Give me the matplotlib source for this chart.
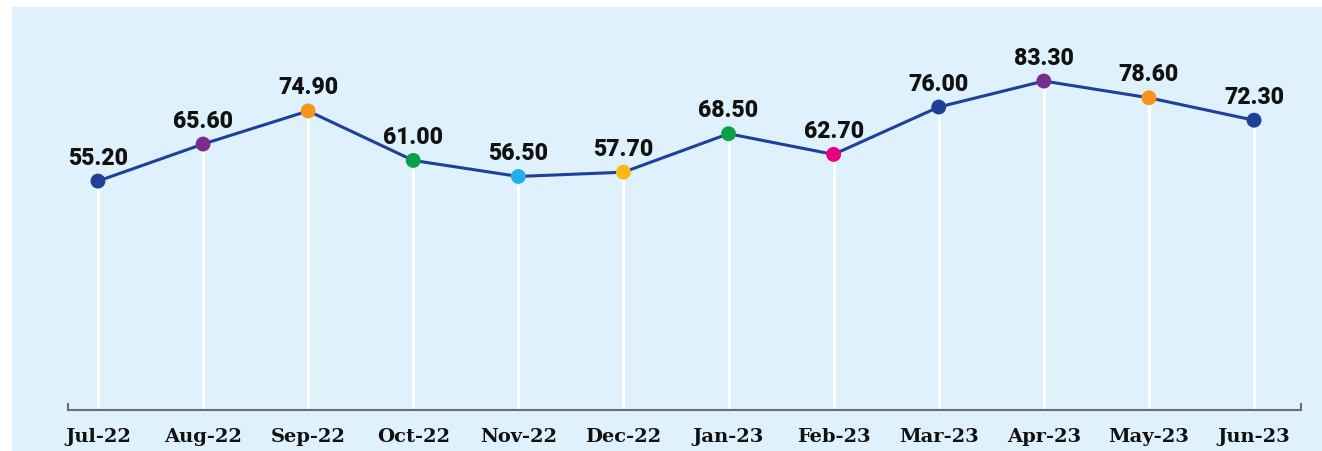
import matplotlib
matplotlib.use('Agg')
import matplotlib.pyplot as plt
from matplotlib.patches import Rectangle

months = ['Jul-22', 'Aug-22', 'Sep-22', 'Oct-22', 'Nov-22', 'Dec-22',
          'Jan-23', 'Feb-23', 'Mar-23', 'Apr-23', 'May-23', 'Jun-23']
values = [55.2, 65.6, 74.9, 61.0, 56.5, 57.7, 68.5, 62.7, 76.0, 83.3, 78.6, 72.3]
point_colors = ['#1f3f99', '#7b2d8e', '#f7941d', '#0aa04a', '#1fb0ea', '#fbb817',
                '#0aa04a', '#e5007e', '#1f3f99', '#7b2d8e', '#f7941d', '#1f3f99']

bg = '#dff1fc'
line_color = '#1f3f99'

W, H = 1322, 452
fig = plt.figure(figsize=(W / 100, H / 100), dpi=100)
fig.patch.set_facecolor('white')
# light blue panel behind everything
fig.patches.append(Rectangle((12 / W, -0.01), 1.01 - 12 / W, 1.01 - 8 / H,
                             transform=fig.transFigure, facecolor=bg,
                             edgecolor='none', zorder=-5))

ax = fig.add_axes([68 / W, 41 / H, (1301 - 68) / W, (411 - 8) / H])
ax.set_facecolor('none')
ax.set_zorder(1)

x = list(range(len(months)))
ax.set_xlim(-0.285, 11.447)
ax.set_ylim(-9.1, 104.1)

# white drop lines from axis to points
ax.vlines(x, -9.1, values, colors='white', linewidth=2.2, zorder=1)
ax.plot(x, values, color=line_color, linewidth=2.2, zorder=2)
ax.scatter(x, values, s=115, c=point_colors, zorder=3, linewidths=0)

for xi, v in zip(x, values):
    ax.annotate(f'{v:.2f}', (xi, v), xytext=(0, 9), textcoords='offset points',
                ha='center', va='bottom', fontsize=16.5, fontweight='heavy',
                family='Roboto', color='#111111')

for s in ['top', 'right', 'left']:
    ax.spines[s].set_visible(False)
ax.spines['bottom'].set_color('#6d6e71')
ax.spines['bottom'].set_linewidth(1.5)
# small end caps on the axis line
for xe in (0, 1):
    ax.plot([xe, xe], [0, 0.015], transform=ax.transAxes, color='#6d6e71',
            linewidth=1.5, clip_on=False)

ax.set_yticks([])
ax.set_xticks(x)
ax.set_xticklabels(months, fontsize=14, fontweight='heavy', family='DejaVu Serif',
                   color='#111111')
ax.tick_params(axis='x', length=0, pad=12)

fig.savefig('out.png', dpi=100)
